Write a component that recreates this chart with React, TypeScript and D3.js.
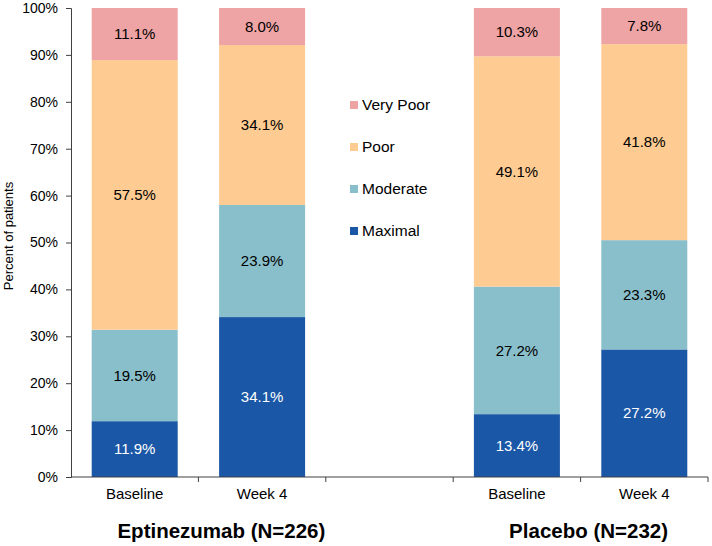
import React, { useRef, useEffect } from "react";
import * as d3 from "d3";

// slots along the x axis (the middle one is an empty spacer)
const slots = ["eBase", "eWk4", "gap", "pBase", "pWk4"];
const slotLabels = ["Baseline", "Week 4", "", "Baseline", "Week 4"];
const barSlots = ["eBase", "eWk4", "pBase", "pWk4"];

const groupTitles = ["Eptinezumab (N=226)", "Placebo (N=232)"];

const seriesKeys = ["Maximal", "Moderate", "Poor", "Very Poor"];
const maximal = [11.9, 34.1, 13.4, 27.2];
const moderate = [19.5, 23.9, 27.2, 23.3];
const poor = [57.5, 34.1, 49.1, 41.8];
const veryPoor = [11.1, 8.0, 10.3, 7.8];

const yTicks = [0, 10, 20, 30, 40, 50, 60, 70, 80, 90, 100];

const colors: Record<string, string> = {
  Maximal: "#1a57a6",
  Moderate: "#89bfcb",
  Poor: "#fecc93",
  "Very Poor": "#eea3a4",
};

const App: React.FC = () => {
  const ref = useRef<SVGSVGElement | null>(null);

  useEffect(() => {
    if (!ref.current) return;
    const svg = d3.select(ref.current);
    svg.selectAll("*").remove();

    const width = 712;
    const height = 546;
    const margin = { top: 8, right: 4, bottom: 69, left: 71 };
    const font = "'Liberation Sans', Arial, sans-serif";

    const rows = barSlots.map((s, i) => ({
      slot: s,
      Maximal: maximal[i],
      Moderate: moderate[i],
      Poor: poor[i],
      "Very Poor": veryPoor[i],
    }));

    const x = d3
      .scaleBand()
      .domain(slots)
      .range([margin.left, width - margin.right])
      .padding(0);

    const y = d3
      .scaleLinear()
      .domain([0, 100])
      .range([height - margin.bottom, margin.top])
      .clamp(true);

    const barW = x.bandwidth() * 0.675;

    const stacked = d3.stack<any>().keys(seriesKeys)(rows);

    const layers = svg
      .append("g")
      .selectAll("g")
      .data(stacked)
      .enter()
      .append("g")
      .attr("fill", (d) => colors[d.key]);

    layers
      .selectAll("rect")
      .data((d) => d.map((p) => ({ p, key: d.key })))
      .enter()
      .append("rect")
      .attr("x", (d) => (x(d.p.data.slot) || 0) + (x.bandwidth() - barW) / 2)
      .attr("y", (d) => y(d.p[1]))
      .attr("width", barW)
      .attr("height", (d) => y(d.p[0]) - y(d.p[1]));

    layers
      .selectAll("text")
      .data((d) => d.map((p) => ({ p, key: d.key })))
      .enter()
      .append("text")
      .attr("x", (d) => (x(d.p.data.slot) || 0) + x.bandwidth() / 2)
      .attr("y", (d) => (y(d.p[0]) + y(d.p[1])) / 2)
      .attr("dy", "0.35em")
      .attr("text-anchor", "middle")
      .attr("font-family", font)
      .attr("font-size", 15)
      .attr("fill", (d) => (d.key === "Maximal" ? "#fff" : "#000"))
      .text((d) => `${(d.p[1] - d.p[0]).toFixed(1)}%`);

    // y axis
    const yAxis = svg
      .append("g")
      .attr("transform", `translate(${margin.left},0)`)
      .call(
        d3
          .axisLeft(y)
          .tickValues(yTicks)
          .tickSize(5)
          .tickPadding(8)
          .tickFormat((d) => `${d}%`)
      );
    yAxis.select(".domain").attr("stroke", "#404040");
    yAxis.selectAll(".tick line").attr("stroke", "#404040");
    yAxis
      .selectAll("text")
      .attr("font-family", font)
      .attr("font-size", 14)
      .attr("fill", "#000");

    // x axis: ticks between categories
    const xAxisG = svg
      .append("g")
      .attr("transform", `translate(0,${height - margin.bottom})`);
    xAxisG
      .append("line")
      .attr("x1", margin.left)
      .attr("x2", width - margin.right)
      .attr("stroke", "#404040");
    xAxisG
      .selectAll(".sep")
      .data(slots)
      .enter()
      .append("line")
      .attr("x1", (d) => (x(d) || 0) + x.bandwidth())
      .attr("x2", (d) => (x(d) || 0) + x.bandwidth())
      .attr("y1", 0)
      .attr("y2", 5)
      .attr("stroke", "#404040");
    xAxisG
      .selectAll(".lab")
      .data(slots)
      .enter()
      .append("text")
      .attr("x", (d) => (x(d) || 0) + x.bandwidth() / 2)
      .attr("y", 22)
      .attr("text-anchor", "middle")
      .attr("font-family", font)
      .attr("font-size", 15)
      .attr("fill", "#000")
      .text((d, i) => slotLabels[i]);

    // group titles
    const titleX = [
      ((x("eBase") || 0) + (x("eWk4") || 0) + x.bandwidth()) / 2 + 23,
      ((x("pBase") || 0) + (x("pWk4") || 0) + x.bandwidth()) / 2 + 8,
    ];
    svg
      .selectAll(".title")
      .data(groupTitles)
      .enter()
      .append("text")
      .attr("x", (d, i) => titleX[i])
      .attr("y", 538)
      .attr("text-anchor", "middle")
      .attr("font-family", font)
      .attr("font-weight", "bold")
      .attr("font-size", 20.5)
      .attr("fill", "#000")
      .text((d) => d);

    // y axis title
    svg
      .append("text")
      .attr("transform", `translate(13,236) rotate(-90)`)
      .attr("text-anchor", "middle")
      .attr("font-family", font)
      .attr("font-size", 13)
      .attr("fill", "#000")
      .text("Percent of patients");

    // legend
    const legendKeys = ["Very Poor", "Poor", "Moderate", "Maximal"];
    const legend = svg
      .append("g")
      .attr("transform", "translate(350,105)")
      .selectAll("g")
      .data(legendKeys)
      .enter()
      .append("g")
      .attr("transform", (d, i) => `translate(0,${i * 42})`);
    legend
      .append("rect")
      .attr("x", 0)
      .attr("y", -4)
      .attr("width", 8)
      .attr("height", 8)
      .attr("fill", (d) => colors[d]);
    legend
      .append("text")
      .attr("x", 12)
      .attr("y", 0)
      .attr("dy", "0.35em")
      .attr("font-family", font)
      .attr("font-size", 15.5)
      .attr("fill", "#000")
      .text((d) => d);
  }, []);

  return (
    <svg
      ref={ref}
      width={712}
      height={546}
      style={{ position: "absolute", left: 0, top: 0, display: "block" }}
    />
  );
};

export default App;
